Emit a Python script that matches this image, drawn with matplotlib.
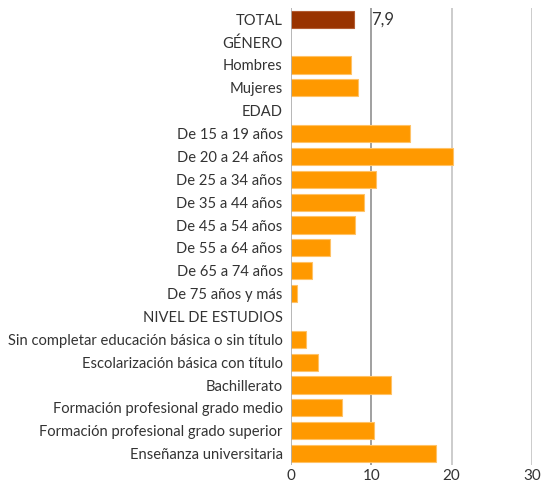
import matplotlib.pyplot as plt

categories = [
    "TOTAL", "GÉNERO", "Hombres", "Mujeres", "EDAD",
    "De 15 a 19 años", "De 20 a 24 años", "De 25 a 34 años", "De 35 a 44 años",
    "De 45 a 54 años", "De 55 a 64 años", "De 65 a 74 años", "De 75 años y más",
    "NIVEL DE ESTUDIOS",
    "Sin completar educación básica o sin título",
    "Escolarización básica con título",
    "Bachillerato",
    "Formación profesional grado medio",
    "Formación profesional grado superior",
    "Enseñanza universitaria",
]
values = [7.9, None, 7.5, 8.3, None,
          14.8, 20.2, 10.6, 9.1, 8.0, 4.9, 2.6, 0.7,
          None,
          1.8, 3.4, 12.4, 6.4, 10.3, 18.1]
total_label = "7,9"
x_ticks = [0, 10, 20, 30]

plt.rcParams['font.family'] = ['Lato', 'DejaVu Sans']

fig = plt.figure(figsize=(5.41, 4.88), dpi=100)
ax = fig.add_axes([0.538, 0.047, 0.445, 0.937])

# gridlines
for t in x_ticks[1:]:
    ax.axvline(t, color="#999999" if t == 10 else "#c8c8c8", lw=1.3, zorder=0)
ax.axvline(0, color="#aaaaaa", lw=1.2, zorder=3)

for i, v in enumerate(values):
    if v is None:
        continue
    color = "#993300" if i == 0 else "#ff9900"
    edge = "#b35c33" if i == 0 else "#ffc266"
    ax.barh(i, v, height=0.75, color=color, edgecolor=edge, lw=0.8, zorder=2)

ax.annotate(total_label, xy=(values[0], 0), xytext=(12, 0), textcoords="offset points",
            va="center", ha="left", fontsize=12, color="#333333")

ax.set_xlim(0, 30)
ax.set_ylim(len(categories) - 0.5, -0.5)
ax.set_yticks(range(len(categories)))
ax.set_yticklabels(categories, fontsize=10.6, color="#333333")
ax.set_xticks(x_ticks)
ax.set_xticklabels([str(t) for t in x_ticks], fontsize=11, color="#333333")
ax.tick_params(length=0)
ax.tick_params(axis="x", pad=3)
ax.tick_params(axis="y", pad=6)
for s in ax.spines.values():
    s.set_visible(False)

plt.savefig("out.png", dpi=100)
